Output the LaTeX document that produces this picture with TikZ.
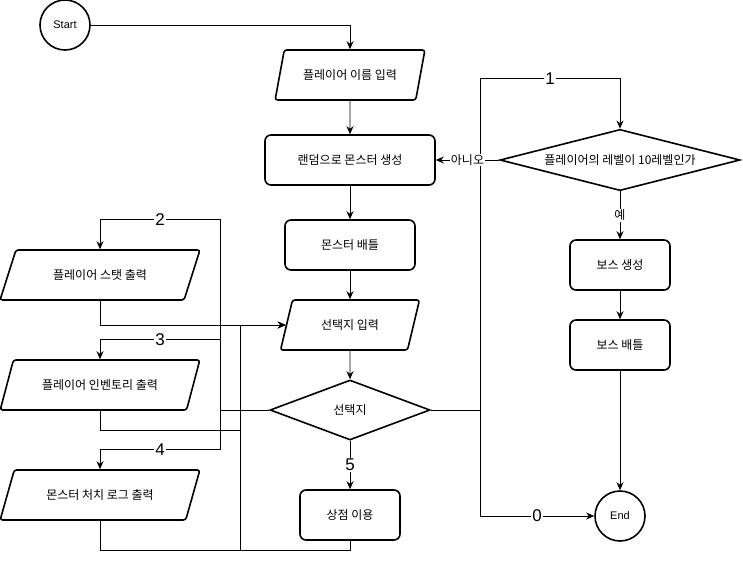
\documentclass[tikz,border=0pt]{standalone}
\usepackage{fontspec}
\setmainfont{Noto Sans CJK KR}
\newfontfamily\latinfont{Liberation Sans}
\usetikzlibrary{positioning}
\usetikzlibrary{shapes.geometric}
\usetikzlibrary{arrows.meta}
\tikzset{
  % Start / End circle
  terminal/.style={
    draw=black, line width=1.6pt, circle, minimum size=50pt, inner sep=0pt,
    font=\latinfont\fontsize{11}{13}\selectfont},
  % A process box
  proc/.style={
    draw=black, line width=1.6pt, rounded corners=6pt, minimum width=#1,
    minimum height=50pt, inner sep=0pt, font=\fontsize{12}{14}\selectfont},
  % Input / output parallelogram
  iobox/.style={
    draw=black, line width=1.6pt, trapezium, trapezium stretches=true,
    rounded corners=2.5pt, minimum width=#1, minimum height=50pt,
    inner sep=0pt, font=\fontsize{12}{14}\selectfont},
  % A decision
  decision/.style={
    draw=black, line width=1.6pt, diamond, aspect=3, minimum width=#1,
    minimum height=60pt, inner sep=0pt, font=\fontsize{12}{14}\selectfont},
  % Connectors
  line/.style={draw=black, line width=0.9pt},
  flow/.style={line, -{Stealth[length=8pt, width=7pt]}},
  numlbl/.style={fill=white, inner sep=1pt, font=\latinfont\fontsize{17}{19}\selectfont},
  txtlbl/.style={fill=white, inner sep=1pt, font=\fontsize{12}{14}\selectfont},
}

\begin{document}
\begin{tikzpicture}[x=1pt, y=-1pt]
  \useasboundingbox (0,0) rectangle (743,560);

  % main column
  \node[terminal] (start) at (65,25) {Start};
  \node[iobox=150, trapezium left angle=59, trapezium right angle=121] (name) at (350,75) {플레이어 이름 입력};
  \node[proc=170] (spawn) at (350,160) {랜덤으로 몬스터 생성};
  \node[proc=130] (battle) at (350,245) {몬스터 배틀};
  \node[iobox=140, trapezium left angle=61, trapezium right angle=119] (pick) at (350,325) {선택지 입력};
  \node[decision=160] (menu) at (350,410) {선택지};
  \node[proc=100] (shop) at (350,515) {상점 이용};

  % left column
  \node[iobox=200, trapezium left angle=51, trapezium right angle=129] (stats) at (100,275) {플레이어 스탯 출력};
  \node[iobox=200, trapezium left angle=51, trapezium right angle=129] (inven) at (100,385) {플레이어 인벤토리 출력};
  \node[iobox=200, trapezium left angle=51, trapezium right angle=129] (killlog) at (100,495) {몬스터 처치 로그 출력};

  % right column
  \node[decision=240] (lvcheck) at (620,160) {플레이어의 레벨이 10레벨인가};
  \node[proc=100] (bossmake) at (620,265) {보스 생성};
  \node[proc=100] (bossfight) at (620,345) {보스 배틀};
  \node[terminal] (finish) at (620,516) {End};

  % junctions
  \coordinate (busL) at (220,410);
  \coordinate (busM) at (240,430);
  \coordinate (busB) at (240,550);
  \coordinate (busR) at (480,410);

  % main flow
  \draw[flow] (start) -| (name);
  \draw[flow] (name) -- (spawn);
  \draw[flow] (spawn) -- (battle);
  \draw[flow] (battle) -- (pick);
  \draw[flow] (pick) -- (menu);
  \draw[flow] (menu) -- node[numlbl]{5} (shop);

  % menu branches to the left
  \draw[line] (menu.west) -- (busL);
  \draw[flow] (busL) |- node[numlbl, pos=0.75]{2} ([yshift=30pt]stats.north) -- (stats.north);
  \draw[flow] (busL) |- node[numlbl, pos=0.75]{3} ([yshift=20pt]inven.north) -- (inven.north);
  \draw[flow] (busL) |- node[numlbl, pos=0.75]{4} ([yshift=20pt]killlog.north) -- (killlog.north);

  % back to the menu input
  \draw[line] (inven.south) |- (busM);
  \draw[line] (killlog.south) |- (busB);
  \draw[line] (shop.south) |- (busB);
  \draw[flow] (stats.south) |- (pick.west);
  \draw[flow] (busB) |- (pick.west);

  % menu branches to the right
  \draw[line] (menu.east) -- (busR);
  \draw[flow] (busR) |- node[numlbl, pos=0.75]{1} ([yshift=50pt]lvcheck.north) -- (lvcheck.north);
  \draw[flow] (busR) |- node[numlbl, pos=0.75]{0} (finish.west);

  % boss path
  \draw[flow] (lvcheck.west) -- node[txtlbl]{아니오} (spawn.east);
  \draw[flow] (lvcheck.south) -- node[txtlbl]{예} (bossmake.north);
  \draw[flow] (bossmake) -- (bossfight);
  \draw[flow] (bossfight) -- (finish);

\end{tikzpicture}
\end{document}
